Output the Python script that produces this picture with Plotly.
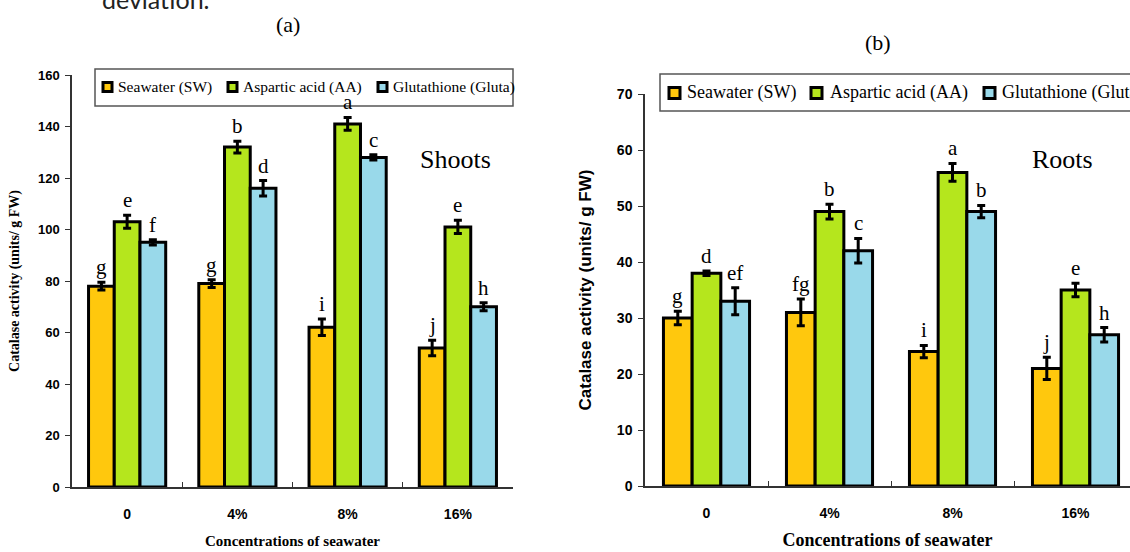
import plotly.graph_objects as go

W, H = 1130, 552

# ---------------- data ----------------
categories = ["0", "4%", "8%", "16%"]
series_names = ["Seawater (SW)", "Aspartic acid (AA)", "Glutathione (Gluta)"]
colors = ["#FFC80D", "#B5E61D", "#99D9EA"]

shoots_sw = [78, 79, 62, 54]
shoots_aa = [103, 132, 141, 101]
shoots_gluta = [95, 116, 128, 70]
shoots_sw_err = [1.5, 1.5, 3.2, 3.0]
shoots_aa_err = [2.5, 2.3, 2.5, 2.6]
shoots_gluta_err = [1.0, 3.0, 1.0, 1.6]
shoots_letters_sw = ["g", "g", "i", "j"]
shoots_letters_aa = ["e", "b", "a", "e"]
shoots_letters_gluta = ["f", "d", "c", "h"]

roots_sw = [30, 31, 24, 21]
roots_aa = [38, 49, 56, 35]
roots_gluta = [33, 42, 49, 27]
roots_sw_err = [1.2, 2.4, 1.1, 2.0]
roots_aa_err = [0.4, 1.3, 1.6, 1.2]
roots_gluta_err = [2.4, 2.2, 1.1, 1.3]
roots_letters_sw = ["g", "fg", "i", "j"]
roots_letters_aa = ["d", "b", "a", "e"]
roots_letters_gluta = ["ef", "c", "b", "h"]

y_ticks_shoots = [0, 20, 40, 60, 80, 100, 120, 140, 160]
y_ticks_roots = [0, 10, 20, 30, 40, 50, 60, 70]

# ---------------- layout helpers (pixel -> paper) ----------------
def px(x):
    return x / W

def py(y):
    return 1 - y / H

# panel geometry (pixels)
A_X0, A_X1, A_Y0, A_Y1 = 72, 513, 75, 487
B_X0, B_X1, B_Y0, B_Y1 = 645, 1130, 94, 486
B_CAT_W = 123.0
BARGAP = 0.3

SERIF = "Liberation Serif"
SANS = "Liberation Sans"

fig = go.Figure()

panels = [
    ("x", "y", [shoots_sw, shoots_aa, shoots_gluta],
     [shoots_sw_err, shoots_aa_err, shoots_gluta_err],
     [shoots_letters_sw, shoots_letters_aa, shoots_letters_gluta]),
    ("x2", "y2", [roots_sw, roots_aa, roots_gluta],
     [roots_sw_err, roots_aa_err, roots_gluta_err],
     [roots_letters_sw, roots_letters_aa, roots_letters_gluta]),
]

for xa, ya, vals, errs, _ in panels:
    for i in range(3):
        fig.add_trace(go.Bar(
            x=categories, y=vals[i], name=series_names[i],
            xaxis=xa, yaxis=ya, showlegend=False,
            marker=dict(color=colors[i], line=dict(color="black", width=3)),
            error_y=dict(type="data", array=errs[i], color="black",
                         thickness=3, width=4),
        ))

# significance letters
a_cat_w = (A_X1 - A_X0) / 4
b_cat_w = B_CAT_W
for (xa, ya, vals, errs, letters), cw in zip(panels, [a_cat_w, b_cat_w]):
    bw = cw * (1 - BARGAP) / 3
    for i in range(3):
        for j, cat in enumerate(categories):
            fig.add_annotation(
                x=cat, y=vals[i][j] + errs[i][j], xref=xa, yref=ya,
                text=letters[i][j], showarrow=False,
                xanchor="center", yanchor="bottom",
                xshift=(i - 1) * bw, yshift=1,
                font=dict(family=SERIF, size=21, color="black"),
            )

# axes
b_range_end = 3.5 - (B_CAT_W * 4 - (B_X1 - B_X0)) / B_CAT_W

axis_common_x = dict(
    type="category", categoryorder="array", categoryarray=categories,
    showline=True, linecolor="#333", linewidth=1.5, showgrid=False,
    zeroline=False, ticks="inside", ticklen=5, tickcolor="#333",
    tickson="boundaries",
    tickfont=dict(family=SANS, size=14, color="black", weight="bold"),
    ticklabelstandoff=13,
)
axis_common_y = dict(
    showline=True, linecolor="#333", linewidth=1.5, showgrid=False,
    zeroline=False, ticks="outside", ticklen=5, tickcolor="#333",
    tickfont=dict(family=SANS, size=14, color="black", weight="bold"),
    ticklabelstandoff=3,
)

fig.update_layout(
    width=W, height=H,
    margin=dict(l=0, r=0, t=0, b=0, autoexpand=False),
    paper_bgcolor="white", plot_bgcolor="white",
    barmode="group", bargap=BARGAP, bargroupgap=0,
    showlegend=False,
    xaxis=dict(axis_common_x, domain=[px(A_X0), px(A_X1)], anchor="y",
               range=[-0.5, 3.5],
               title=dict(text="Concentrations of seawater", standoff=15,
                          font=dict(family=SERIF, size=15, color="black",
                                    weight="bold"))),
    yaxis=dict(axis_common_y, domain=[py(A_Y1), py(A_Y0)], anchor="x",
               range=[0, 160], tickvals=y_ticks_shoots,
               tickfont=dict(family=SANS, size=13, color="black", weight="bold"),
               title=dict(text="Catalase activity (units/ g FW)", standoff=15,
                          font=dict(family=SERIF, size=14, color="black",
                                    weight="bold"))),
    xaxis2=dict(axis_common_x, domain=[px(B_X0), 1.0], anchor="y2",
                range=[-0.5, b_range_end],
                title=dict(text="Concentrations of seawater", standoff=14,
                           font=dict(family=SERIF, size=18, color="black",
                                     weight="bold"))),
    yaxis2=dict(axis_common_y, domain=[py(B_Y1), py(B_Y0)], anchor="x2",
                range=[0, 70], tickvals=y_ticks_roots,
                title=dict(text="Catalase activity (units/ g FW)", standoff=21,
                           font=dict(family=SANS, size=17, color="black",
                                     weight="bold"))),
)

# ---------------- manual legends ----------------
def draw_legend(box, items, sq, font_size, text_y):
    x0, y0, x1, y1 = box
    fig.add_shape(type="rect", xref="paper", yref="paper",
                  x0=px(x0), x1=px(x1), y0=py(y1), y1=py(y0),
                  line=dict(color="#555", width=1.5), fillcolor="white",
                  layer="above")
    for (sx, tx, name, col) in items:
        fig.add_shape(type="rect", xref="paper", yref="paper",
                      x0=px(sx), x1=px(sx + sq), y0=py(text_y + sq / 2),
                      y1=py(text_y - sq / 2),
                      line=dict(color="black", width=3), fillcolor=col,
                      layer="above")
        fig.add_annotation(xref="paper", yref="paper", x=px(tx), y=py(text_y),
                           text=name, showarrow=False, xanchor="left",
                           yanchor="middle", borderpad=0,
                           font=dict(family=SERIF, size=font_size,
                                     color="black"))

draw_legend((95, 69, 513, 106),
            [(103, 117, series_names[0], colors[0]),
             (228, 242, series_names[1], colors[1]),
             (378, 392, series_names[2], colors[2])],
            9, 15.5, 87)

draw_legend((660, 74, 1140, 111),
            [(669, 686, series_names[0], colors[0]),
             (811, 829, series_names[1], colors[1]),
             (984, 1001, series_names[2], colors[2])],
            11, 18, 93)

# ---------------- panel labels and other text ----------------
def label(x, y, text, size, family=SERIF, color="black", xanchor="center",
          yanchor="middle"):
    fig.add_annotation(xref="paper", yref="paper", x=px(x), y=py(y),
                       text=text, showarrow=False, xanchor=xanchor,
                       yanchor=yanchor,
                       font=dict(family=family, size=size, color=color))

label(455, 159, "Shoots", 26)
label(1062, 159, "Roots", 26)
label(288, 25, "(a)", 22)
label(878, 42, "(b)", 22)
label(100, 16, "deviation.", 25, family="Lato", color="#222",
      xanchor="left", yanchor="bottom")

fig.write_html("out.html",
               config={"displayModeBar": False},
               post_script="document.body.style.margin='0';")
